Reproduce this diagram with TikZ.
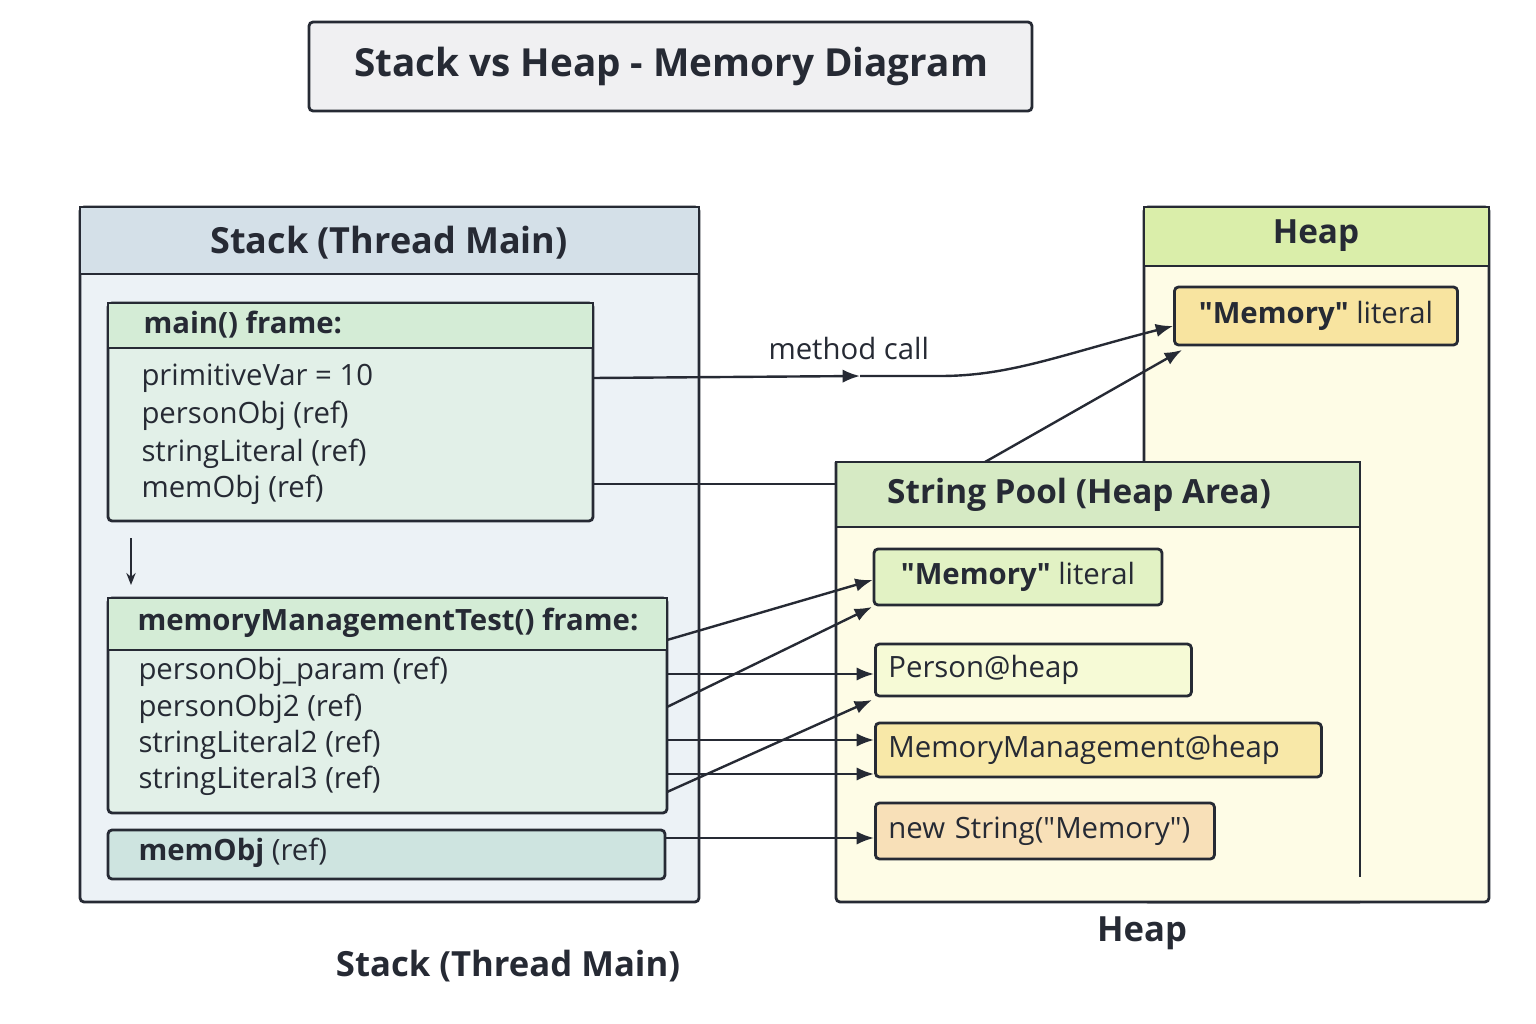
\documentclass[tikz,border=0pt]{standalone}
\usepackage{fontspec}
\setmainfont{Open Sans}
\usetikzlibrary{arrows.meta}
\definecolor{ink}{RGB}{38,42,52}
\definecolor{titlebg}{RGB}{240,240,242}
\definecolor{stackhead}{RGB}{212,224,232}
\definecolor{stackbody}{RGB}{236,242,246}
\definecolor{framehead}{RGB}{212,236,214}
\definecolor{framebody}{RGB}{226,240,232}
\definecolor{memobj}{RGB}{206,228,224}
\definecolor{heaphead}{RGB}{218,238,170}
\definecolor{heapbody}{RGB}{254,252,230}
\definecolor{poolhead}{RGB}{214,234,196}
\definecolor{litbox}{RGB}{248,228,160}
\definecolor{greenbox}{RGB}{226,242,196}
\definecolor{personbox}{RGB}{246,250,214}
\definecolor{mmbox}{RGB}{248,232,168}
\definecolor{strbox}{RGB}{248,224,184}
\tikzset{every picture/.style={line width=0.75pt}}
\tikzset{
  box/.style={draw=ink, line width=2.1pt, rounded corners=3pt},
  bodytext/.style={anchor=west, inner sep=0.75pt, text=ink, font=\fontsize{22}{24}\selectfont},
  headtext/.style={inner sep=0.75pt, text=ink, font=\bfseries\fontsize{25}{28}\selectfont},
  link/.style={draw=ink, line width=1.8pt, -{Latex[length=13pt,width=10pt]}}
}
\begin{document}
\begin{tikzpicture}[x=0.75pt,y=0.75pt,yscale=-1,xscale=1]
\useasboundingbox (0,0) rectangle (1536,1024);

% title
\draw [box, fill=titlebg] (309,22) rectangle (1032,111);
\node (title) [headtext, font=\bfseries\fontsize{29}{32}\selectfont] at (671,66) {Stack vs Heap - Memory Diagram};

% stack
\draw [box, fill=stackbody] (80,207) rectangle (699,902);
\draw [box, fill=stackhead, rounded corners=0pt] (80,207) rectangle (699,274);
\node (stackhd) [headtext, font=\bfseries\fontsize{27}{30}\selectfont] at (389,243) {Stack (Thread Main)};

% main() frame
\draw [box, fill=framebody] (108,303) rectangle (593,521);
\draw [box, fill=framehead, rounded corners=0pt] (108,303) rectangle (593,348);
\node (mainhd) [headtext, anchor=west, font=\bfseries\fontsize{22}{24}\selectfont] at (142,325) {main() frame:};
\node (primvar) [bodytext] at (140,378) {primitiveVar = 10};
\node (personobj) [bodytext] at (140,416) {personObj (ref)};
\node (strlit) [bodytext] at (140,454) {stringLiteral (ref)};
\node (memobja) [bodytext] at (140,490) {memObj (ref)};
\draw [draw=ink, line width=1.6pt, -{Stealth[length=9pt,width=7pt]}] (131,538) -- (131,585);

% memoryManagementTest() frame
\draw [box, fill=framebody] (108,598) rectangle (667,813);
\draw [box, fill=framehead, rounded corners=0pt] (108,598) rectangle (667,650);
\node (testhd) [headtext, anchor=west, font=\bfseries\fontsize{22}{24}\selectfont] at (136,623) {memoryManagementTest() frame:};
\node (pparam) [bodytext] at (137,672) {personObj\_param (ref)};
\node (pobj2) [bodytext] at (137,709) {personObj2 (ref)};
\node (slit2) [bodytext] at (137,745) {stringLiteral2 (ref)};
\node (slit3) [bodytext] at (137,781) {stringLiteral3 (ref)};

% memObj
\draw [box, fill=memobj] (108,830) rectangle (665,879);
\node (memobjb) [bodytext] at (137,853) {\textbf{memObj} (ref)};

% heap
\draw [box, fill=heapbody] (1144,207) rectangle (1489,902);
\draw [box, fill=heaphead, rounded corners=0pt] (1144,207) rectangle (1489,266);
\node (heaphd) [headtext] at (1316,236) {Heap};
\node (heaplit) [box, fill=litbox, minimum width=283*0.75pt, minimum height=58*0.75pt, bodytext, anchor=center] at (1316,316) {\textbf{\textquotedbl Memory\textquotedbl} literal};

% string pool
\fill [heapbody] (836,462) rectangle (1360,902);
\draw [box, fill=poolhead, rounded corners=0pt] (836,462) rectangle (1360,527);
\draw [box, rounded corners=0pt] (1360,527) -- (1360,877);
\draw [box] (1360,902) -- (836,902) -- (836,462);
\node (poolhd) [headtext] at (1079,495) {String Pool (Heap Area)};
\node (poollit) [box, fill=greenbox, minimum width=288*0.75pt, minimum height=56*0.75pt, bodytext, anchor=center] at (1018,577) {\textbf{\textquotedbl Memory\textquotedbl} literal};
\node (person) [box, fill=personbox, minimum width=316*0.75pt, minimum height=52*0.75pt, bodytext, anchor=west, text width=290*0.75pt] at (874,670) {Person@heap};
\node (mm) [box, fill=mmbox, minimum width=446*0.75pt, minimum height=54*0.75pt, bodytext, anchor=west, text width=420*0.75pt] at (874,750) {MemoryManagement@heap};
\node (newstr) [box, fill=strbox, minimum width=339*0.75pt, minimum height=56*0.75pt, bodytext, anchor=west, text width=313*0.75pt] at (874,831) {new String(\textquotedbl Memory\textquotedbl)};

% connectors
\coordinate (mid) at (860,376);
\draw [link] (primvar.east -| 593,376) -- (mid);
\draw [link] (mid) -- (940,376) .. controls (1010,376) and (1060,355) .. (heaplit.west |- 0,326);
\draw [draw=ink, line width=1.8pt] (593,484) -- (836,484);
\draw [link] (985,462) -- (1182,350);
\draw [link] (667,640) -- (poollit.west |- 0,580);
\draw [link] (667,707) -- (872,607);
\draw [link] (667,674) -- (person.west |- 0,674);
\draw [link] (667,740) -- (mm.west |- 0,740);
\draw [link] (667,792) -- (872,700);
\draw [link] (667,774) -- (mm.west |- 0,774);
\draw [link] (665,838) -- (newstr.west |- 0,838);
\node (callbl) [bodytext] at (767,348) {method call};

% captions
\node (heapcap) [headtext, font=\bfseries\fontsize{26}{28}\selectfont] at (1142,933) {Heap};
\node (stackcap) [headtext, font=\bfseries\fontsize{26}{28}\selectfont] at (508,966) {Stack (Thread Main)};
\end{tikzpicture}
\end{document}
